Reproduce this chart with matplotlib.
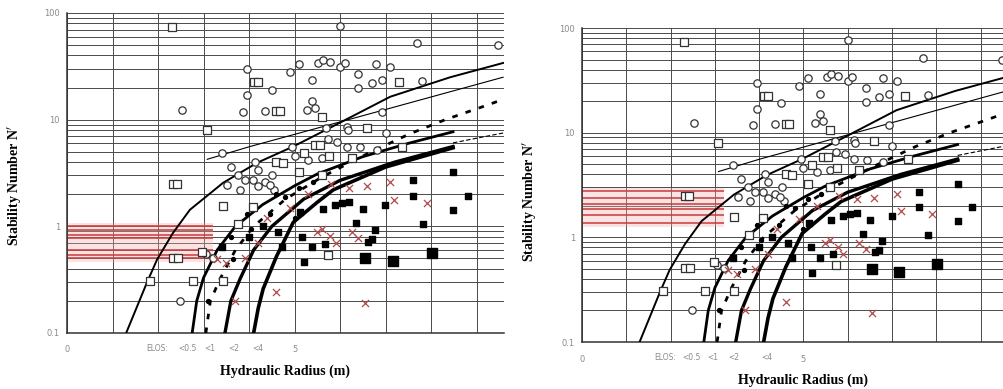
import matplotlib
matplotlib.use('Agg')
import matplotlib.pyplot as plt
from matplotlib.ticker import FixedLocator, LogLocator, NullFormatter

# ---------------- data ----------------
# design curves: hydraulic radius (m) vs stability number N'
curveA_x = [1.30, 1.76, 1.98, 2.33, 2.70, 3.43, 4.18, 4.97, 5.78, 7.10, 8.42, 9.58]
curveA_n = [0.10, 0.30, 0.49, 0.87, 1.43, 2.56, 3.95, 5.6, 8.4, 16.4, 25.0, 34.0]
curveB_x = [3.08, 4.02, 6.95, 9.58]
curveB_n = [4.25, 5.6, 12.3, 25.0]
curveC_x = [3.05, 3.15, 3.36, 3.70, 4.10, 4.80, 5.60, 6.60, 7.54, 8.31, 9.08, 9.45]
curveC_n = [0.10, 0.20, 0.32, 0.60, 1.00, 1.80, 2.90, 4.80, 7.40, 10.0, 13.0, 14.8]
curveD_x = [2.75, 2.85, 3.00, 3.30, 3.70, 4.30, 5.00, 5.50, 6.50, 7.50, 8.48]
curveD_n = [0.10, 0.20, 0.33, 0.60, 1.00, 1.60, 2.40, 3.10, 4.50, 6.00, 7.70]
curveE_x = [8.48, 9.58]
curveE_n = [6.06, 7.50]
curveF_x = [3.47, 3.60, 3.80, 4.10, 4.50, 5.20, 6.00, 7.20, 8.48]
curveF_n = [0.10, 0.20, 0.32, 0.60, 1.00, 1.80, 2.70, 4.00, 5.60]
curveG_x = [4.10, 4.20, 4.31, 4.60, 4.97, 5.49, 5.85, 7.00, 8.48]
curveG_n = [0.10, 0.17, 0.26, 0.52, 1.09, 1.67, 2.20, 3.60, 5.45]

# case histories
circ_x = [2.53, 3.41, 3.96, 3.96, 3.87, 3.52, 3.91, 6.0, 7.69, 9.47,
          4.90, 5.10, 5.52, 5.62, 5.78, 6.00, 6.10, 6.79, 7.10,
          4.50, 5.38, 6.40, 6.40, 6.70, 6.92, 7.80,
          4.35, 5.38, 5.27, 5.45, 6.92, 5.70, 6.15, 6.17, 7.00,
          4.95, 5.74, 5.93, 6.15, 6.44, 4.13, 4.20, 4.51, 4.20, 4.55,
          3.60, 3.75, 3.80, 4.35, 4.09, 4.46, 2.48, 3.20, 3.05,
          5.00, 5.30, 5.60, 6.80]
circ_n = [12.4, 4.9, 30, 17, 11.9, 2.45, 2.7, 76, 52, 50,
          28, 33, 34, 36, 35, 31, 34, 33, 31,
          19, 23.6, 27, 19.8, 22, 23.6, 23,
          12, 15, 12.4, 12.8, 11.9, 8.4, 8.6, 8.0, 7.5,
          5.6, 6.6, 6.2, 5.6, 5.5, 4.0, 3.4, 3.0, 2.4, 2.2,
          3.6, 3.0, 2.2, 2.6, 2.73, 2.45, 0.20, 0.51, 0.55,
          4.6, 4.2, 4.4, 5.2]
sq_x = [2.31, 3.08, 2.33, 2.42, 4.10, 4.20, 4.60, 4.68, 5.60, 6.60, 7.30, 7.36,
        5.45, 5.55, 4.60, 4.75, 3.43, 3.76, 4.09, 2.33, 2.44, 2.97, 1.82, 2.77,
        3.43, 5.73, 5.10, 5.60, 5.20, 5.75, 6.25]
sq_n = [74, 8.0, 2.5, 2.5, 22.6, 22.6, 12, 12, 10.6, 8.4, 22.6, 5.6,
        5.8, 5.8, 4.0, 3.9, 1.55, 1.05, 1.52, 0.51, 0.51, 0.58, 0.31, 0.31,
        0.31, 0.54, 3.2, 3.0, 4.9, 4.6, 4.4]
fsq_x = [7.60, 8.80, 6.99, 8.48, 7.82, 5.20, 4.73, 5.16, 5.38, 5.67, 5.62, 5.89,
         6.04, 6.20, 6.50, 6.35, 6.77, 6.62, 6.70, 3.40, 7.60, 8.48, 4.64, 5.12,
         4.30, 4.00]
fsq_n = [1.93, 1.93, 1.60, 1.43, 1.05, 0.46, 0.64, 0.80, 0.64, 0.69, 1.45, 1.60,
         1.66, 1.69, 1.45, 1.07, 0.92, 0.72, 0.76, 0.64, 2.70, 3.20, 0.89, 1.36,
         1.00, 0.80]
bigsq_x = [8.02, 7.16, 6.55]
bigsq_n = [0.56, 0.47, 0.50]
cross_x = [7.19, 7.90, 4.60, 6.55, 3.69, 5.49, 5.78, 6.26, 6.40, 7.10, 6.60, 4.40,
           4.90, 5.30, 5.80, 6.20, 3.90, 3.50, 3.30, 4.20, 5.60, 5.90]
cross_n = [1.77, 1.66, 0.24, 0.19, 0.20, 0.88, 0.81, 0.89, 0.78, 2.60, 2.40, 1.20,
           1.50, 2.00, 2.50, 2.30, 0.50, 0.45, 0.49, 0.70, 0.95, 0.70]
dot_x = [3.65, 4.05, 4.45, 4.80, 5.10, 3.95, 4.60, 3.10, 3.60, 5.40, 5.00]
dot_n = [0.49, 0.95, 1.30, 1.90, 2.30, 1.30, 2.00, 0.20, 0.80, 2.60, 1.20]

# red stope lines (stability numbers)
red_left_n = [1.00, 0.92, 0.83, 0.77, 0.60, 0.54, 0.50]
red_right_n = [2.75, 2.40, 2.10, 1.85, 1.62, 1.36]
red_extent = 3.2

y_ticks = [0.1, 1, 10, 100]
y_tick_labels = ['0.1', '1', '10', '100']
x_ticks = [0, 5]
x_tick_labels = ['0', '5']
elos_labels = ['ELOS:', '<0.5', '<1', '<2', '<4']
elos_pos_left = [1.98, 2.64, 3.14, 3.67, 4.20]
elos_pos_right = [1.87, 2.48, 2.96, 3.43, 4.18]

# ---------------- figure ----------------
W, H = 1004, 389
fig = plt.figure(figsize=(W / 100, H / 100), dpi=100)
axL = fig.add_axes([67 / W, 1 - 333 / H, 437 / W, 320 / H])
axR = fig.add_axes([582 / W, 1 - 342 / H, 443 / W, 314 / H])

serif = ['Liberation Serif', 'DejaVu Serif']


def draw(ax, xmax, red_n, elos_pos):
    ax.set_yscale('log')
    ax.set_xlim(0, xmax)
    ax.set_ylim(0.1, 100)
    ax.set_axisbelow(True)
    ax.yaxis.set_major_locator(FixedLocator(y_ticks))
    ax.set_yticklabels(y_tick_labels)
    ax.yaxis.set_minor_locator(LogLocator(base=10, subs=range(2, 10)))
    ax.yaxis.set_minor_formatter(NullFormatter())
    ax.xaxis.set_major_locator(FixedLocator(x_ticks))
    ax.set_xticklabels(x_tick_labels)
    ax.xaxis.set_minor_locator(FixedLocator(list(range(0, 11))))
    ax.grid(True, which='both', axis='both', color='#4a4a4a', lw=0.7)
    ax.tick_params(which='both', length=0, labelsize=6, labelcolor='#8a8a8a')
    ax.tick_params(axis='x', pad=9)
    ax.tick_params(axis='y', pad=5)
    for s in ['top', 'right']:
        ax.spines[s].set_visible(False)
    ax.spines['left'].set_color('#333333')
    ax.spines['bottom'].set_color('#333333')
    ax.spines['left'].set_linewidth(1.1)
    ax.spines['bottom'].set_linewidth(1.1)

    # red stope lines with pinkish halo
    ax.fill_between([0, red_extent], min(red_n) * 0.93, max(red_n) * 1.07,
                    color='#f4b0b0', alpha=0.35, lw=0, zorder=1.5)
    ax.hlines(red_n, 0, red_extent, colors='#c83a3a', lw=1.1, zorder=2)

    # design curves
    ax.plot(curveA_x, curveA_n, color='black', lw=1.4, zorder=3)
    ax.plot(curveB_x, curveB_n, color='black', lw=0.8, zorder=3)
    ax.plot(curveC_x, curveC_n, color='black', lw=2.0, ls=(0, (2, 3)), zorder=3)
    ax.plot(curveD_x, curveD_n, color='black', lw=2.0, zorder=3)
    ax.plot(curveE_x, curveE_n, color='black', lw=0.8, ls=(0, (4, 2)), zorder=3)
    ax.plot(curveF_x, curveF_n, color='black', lw=2.4, zorder=3)
    ax.plot(curveG_x, curveG_n, color='black', lw=2.6, zorder=3)

    # case histories
    ax.scatter(circ_x, circ_n, s=28, marker='o', facecolors='white',
               edgecolors='#333333', linewidths=0.9, zorder=4)
    ax.scatter(sq_x, sq_n, s=26, marker='s', facecolors='white',
               edgecolors='#333333', linewidths=0.9, zorder=4)
    ax.scatter(fsq_x, fsq_n, s=24, marker='s', color='black', zorder=4)
    ax.scatter(bigsq_x, bigsq_n, s=42, marker='s', color='black', zorder=4)
    ax.scatter(cross_x, cross_n, s=26, marker='x', color='#b04a4a',
               linewidths=0.9, zorder=4)
    ax.scatter(dot_x, dot_n, s=8, marker='o', color='black', zorder=4)

    for lab, xp in zip(elos_labels, elos_pos):
        ax.text(xp, -0.035, lab, transform=ax.get_xaxis_transform(),
                ha='center', va='top', fontsize=5.5, color='#8a8a8a')

    ax.set_ylabel("Stability Number N$'$", family=serif, fontweight='bold',
                  fontsize=10)
    ax.set_xlabel('Hydraulic Radius (m)', family=serif, fontweight='bold',
                  fontsize=10)


draw(axL, 9.6, red_left_n, elos_pos_left)
draw(axR, 10.0, red_right_n, elos_pos_right)
axL.xaxis.set_label_coords(0.5, -0.10)
axL.yaxis.set_label_coords(-0.098, 0.46)
axR.xaxis.set_label_coords((803 - 582) / 443, -0.10)
axR.yaxis.set_label_coords(-0.097, 0.446)

fig.savefig('out.png', dpi=100)
